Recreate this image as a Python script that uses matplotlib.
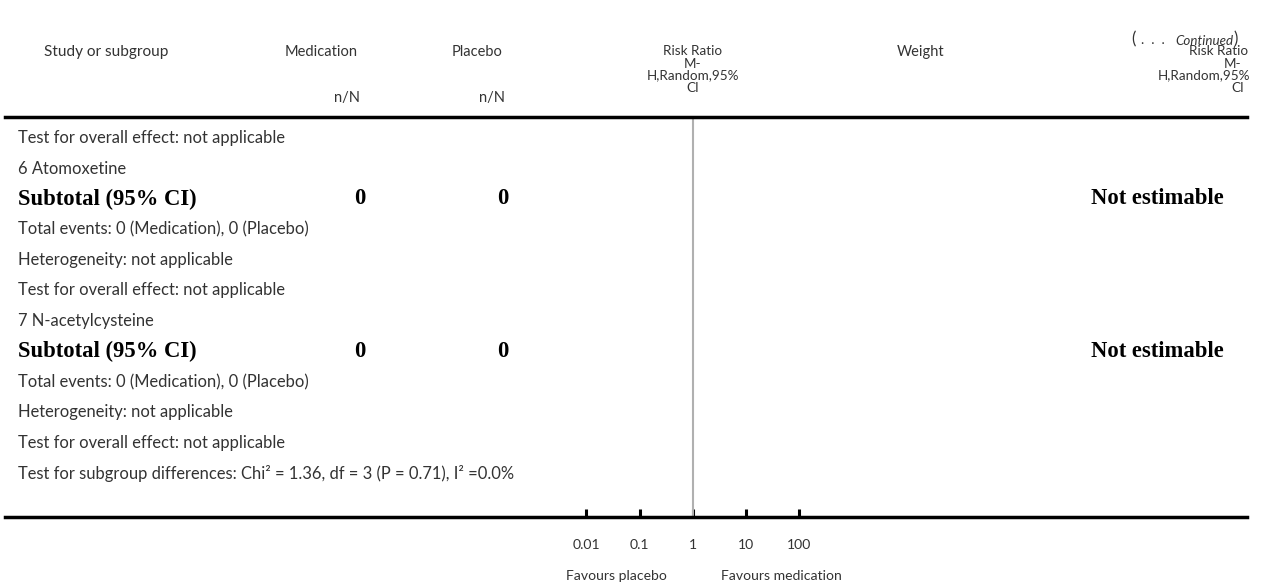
import matplotlib
matplotlib.use("Agg")
import matplotlib.pyplot as plt
import numpy as np

# ---------------- data ----------------
row_labels = [
    "Test for overall effect: not applicable",
    "6 Atomoxetine",
    "Subtotal (95% CI)",
    "Total events: 0 (Medication), 0 (Placebo)",
    "Heterogeneity: not applicable",
    "Test for overall effect: not applicable",
    "7 N-acetylcysteine",
    "Subtotal (95% CI)",
    "Total events: 0 (Medication), 0 (Placebo)",
    "Heterogeneity: not applicable",
    "Test for overall effect: not applicable",
    "Test for subgroup differences: Chi\u00b2 = 1.36, df = 3 (P = 0.71), I\u00b2 =0.0%",
]
row_is_subtotal = [False, False, True, False, False, False, False, True, False, False, False, False]
subtotal_medication = ["0", "0"]
subtotal_placebo = ["0", "0"]
subtotal_effect = ["Not estimable", "Not estimable"]
tick_values = [0.01, 0.1, 1, 10, 100]
tick_labels = ["0.01", "0.1", "1", "10", "100"]
favours_left = "Favours placebo"
favours_right = "Favours medication"

# ---------------- layout ----------------
W, H = 1268, 588
fig = plt.figure(figsize=(W / 100, H / 100), dpi=100)

SANS = ["Lato", "DejaVu Sans"]
SERIF = ["Liberation Serif", "DejaVu Serif"]
fs_head = 10.5
fs_head2 = 9.7
fs_row = 11.9
fs_small = 10.1

# forest axes (log scale), spanning the table width
x_left, x_right = 5, 1247
y_top, y_bot = 117, 517
x_one = 693
decade = 53.25
ax = fig.add_axes([x_left / W, 1 - y_bot / H, (x_right - x_left) / W, (y_bot - y_top) / H])
ax.set_xscale("log")
ax.set_xlim(10 ** (-(x_one - x_left) / decade), 10 ** ((x_right - x_one) / decade))
ax.set_ylim(0, 1)
for s in ["left", "right"]:
    ax.spines[s].set_visible(False)
for s in ["top", "bottom"]:
    ax.spines[s].set_linewidth(2.5)
    ax.spines[s].set_color("black")
ax.set_yticks([])
ax.set_xticks(tick_values)
ax.set_xticklabels(tick_labels, fontfamily=SANS, fontsize=fs_small, color="#333333")
ax.xaxis.set_minor_locator(matplotlib.ticker.NullLocator())
ax.tick_params(axis="x", direction="in", length=6, width=2.2, pad=16, top=False)
ax.axvline(1, color="#b0b0b0", lw=1.5)
ax.patch.set_alpha(0)

# overlay axes for text (pixel coordinates)
at = fig.add_axes([0, 0, 1, 1])
at.set_xlim(0, W)
at.set_ylim(H, 0)
at.axis("off")
at.patch.set_alpha(0)

tc = "#333333"
# header
at.text(1131, 39, "(", fontfamily=SANS, fontsize=12, color=tc, ha="left", va="center")
at.text(1141, 40, ".  .  .", fontfamily=SANS, fontsize=10, color=tc, ha="left", va="center")
at.text(1175, 41, "Continued", fontfamily=SANS, fontsize=9.6, style="italic", color=tc, ha="left", va="center")
at.text(1234, 39, ")", fontfamily=SANS, fontsize=12, color=tc, ha="left", va="center")

at.text(106, 52, "Study or subgroup", fontfamily=SANS, fontsize=fs_head + 0.6, color=tc, ha="center", va="center")
at.text(321, 52, "Medication", fontfamily=SANS, fontsize=fs_head, color=tc, ha="center", va="center")
at.text(477, 52, "Placebo", fontfamily=SANS, fontsize=fs_head, color=tc, ha="center", va="center")
at.text(360, 98, "n/N", fontfamily=SANS, fontsize=fs_head, color=tc, ha="right", va="center")
at.text(505, 98, "n/N", fontfamily=SANS, fontsize=fs_head, color=tc, ha="right", va="center")
head_lines = ["Risk Ratio", "M-", "H,Random,95%", "CI"]
head_y = [51, 63.5, 75.5, 88]
for txt, yy in zip(head_lines, head_y):
    at.text(693, yy, txt, fontfamily=SANS, fontsize=fs_head2, color=tc, ha="center", va="center")
at.text(921, 52, "Weight", fontfamily=SANS, fontsize=fs_head, color=tc, ha="center", va="center")
for txt, xx, yy in zip(head_lines, [1248, 1241, 1250, 1244], head_y):
    at.text(xx, yy, txt, fontfamily=SANS, fontsize=fs_head2, color=tc, ha="right", va="center")

# rows
row_y0, row_dy = 138, 30.5
k = 0
for i, (lab, sub) in enumerate(zip(row_labels, row_is_subtotal)):
    yy = row_y0 + i * row_dy
    if sub:
        kw = dict(fontfamily=SERIF, fontsize=16.3, fontweight="bold", color="black", va="center")
        at.text(18, yy, lab, ha="left", **kw)
        at.text(360, yy, subtotal_medication[k], ha="center", **kw)
        at.text(503, yy, subtotal_placebo[k], ha="center", **kw)
        at.text(1224, yy, subtotal_effect[k], ha="right", **kw)
        k += 1
    else:
        at.text(18, yy, lab, fontfamily=SANS, fontsize=fs_row, color=tc, ha="left", va="center")

at.text(616, 576, favours_left, fontfamily=SANS, fontsize=fs_small, color=tc, ha="center", va="center")
at.text(781, 576, favours_right, fontfamily=SANS, fontsize=fs_small, color=tc, ha="center", va="center")

fig.savefig("out.png", dpi=100)
